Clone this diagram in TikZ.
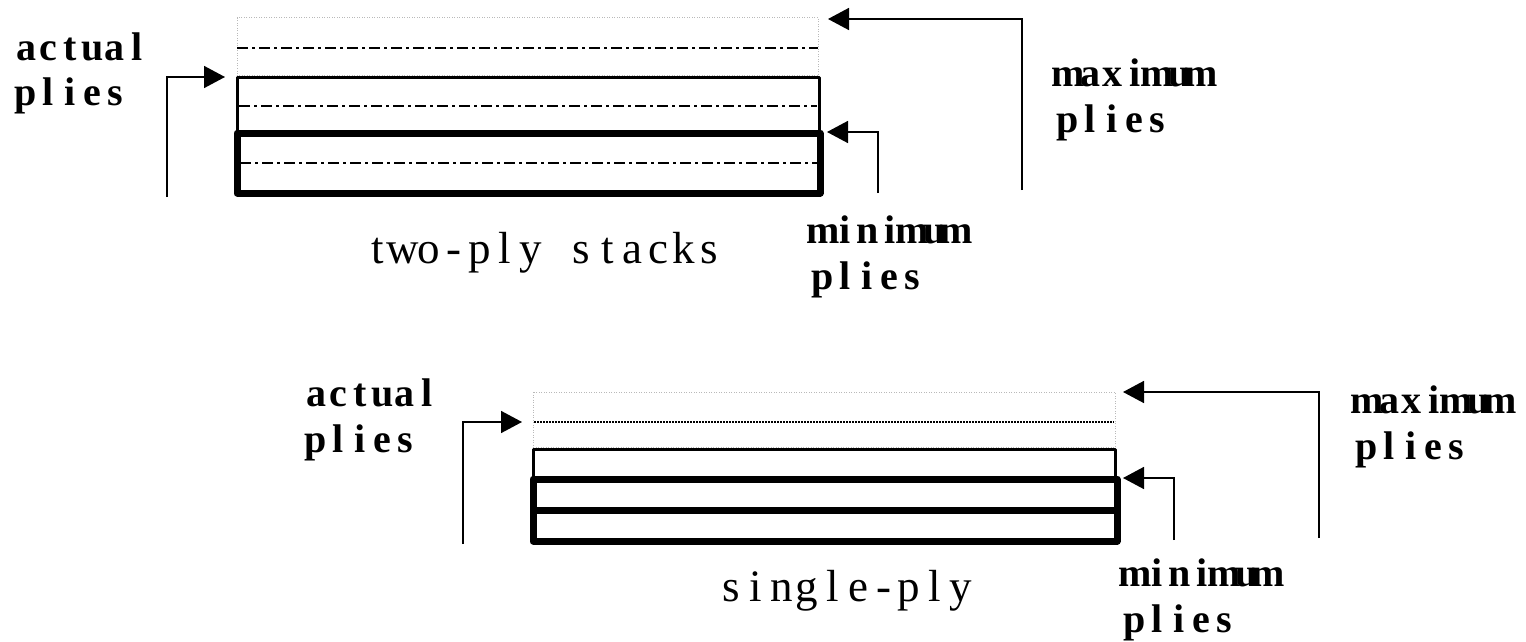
\documentclass[tikz,border=0pt]{standalone}
\usepackage{fontspec}
\setmainfont{Liberation Serif}
\usetikzlibrary{arrows.meta}
\newlength\cellw
\def\mymonoA#1{\ifx#1\relax\else\makebox[\cellw][c]{#1}\expandafter\mymonoA\fi}
\newcommand\mymono[1]{\mymonoA#1\relax}
\newcommand\boldlbl[2]{{\fontsize{40}{46}\selectfont\bfseries\setlength\cellw{22.2pt}\renewcommand\arraystretch{1}\begin{tabular}[t]{@{}l@{}}\mymono{#1}\\\mymono{#2}\end{tabular}}}
\newcommand\reglbl[1]{{\fontsize{45}{50}\selectfont\setlength\cellw{25.5pt}#1}}
\tikzset{
  conn/.style={line width=1.6pt, -{Triangle[length=21pt,width=22pt]}},
  ghost/.style={draw=gray!55, line width=1pt, dash pattern=on 1pt off 1.5pt},
  dashdot/.style={line width=2pt, dash pattern=on 11pt off 4pt on 3pt off 4pt},
  fine/.style={line width=1.6pt, dash pattern=on 1.5pt off 1.5pt},
  thinply/.style={draw, line width=3pt, line join=round},
  thickply/.style={draw, line width=7pt, line join=round},
  lbl/.style={anchor=base west, inner sep=0pt, outer sep=0pt}
}
\begin{document}
\begin{tikzpicture}[x=1pt,y=-1pt]
\useasboundingbox (0,0) rectangle (1526,642);
% ---------- top: two-ply stacks ----------
\coordinate (tA) at (237,18);  \coordinate (tB) at (818,76);
\coordinate (tC) at (237,78);  \coordinate (tD) at (819,133);
\coordinate (tE) at (237,133); \coordinate (tF) at (820,193);
\draw[ghost] (tA) rectangle (tB);
\draw[dashdot] (237,48) -- (818,48);
\draw[thinply] (tC) rectangle (tD);
\draw[dashdot] (239,106) -- (817,106);
\draw[thickply] (tE) rectangle (tF);
\draw[dashdot] (240,163) -- (817,163);

\coordinate (a1tail) at (167,197); \coordinate (a1tip) at (225,77);
\coordinate (n1tail) at (878,193); \coordinate (n1tip) at (827,132);
\coordinate (x1tail) at (1022,190); \coordinate (x1tip) at (828,19);
\draw[conn] (a1tail) |- (a1tip);
\draw[conn] (n1tail) |- (n1tip);
\draw[conn] (x1tail) |- (x1tip);

\node[lbl] (act1) at (15,60) {\boldlbl{actual}{plies}};
\node[lbl] (max1) at (1057,87) {\boldlbl{maximum}{plies}};
\node[lbl] (min1) at (812,243) {\boldlbl{minimum}{plies}};
\node[lbl] (cap1) at (365,263) {\reglbl{\mymono{two-ply}\hspace{\cellw}\mymono{stacks}}};

% ---------- bottom: single-ply ----------
\coordinate (bA) at (533,392);  \coordinate (bB) at (1115,447);
\coordinate (bC) at (533,449);  \coordinate (bD) at (1115,479);
\coordinate (bE) at (533,479);  \coordinate (bF) at (1117,541);
\draw[ghost] (bA) rectangle (bB);
\draw[fine] (534,422) -- (1114,422);
\draw[thinply] (bC) rectangle (bD);
\draw[thickply] (bE) rectangle (bF);
\draw[thickply] (533,510) -- (1117,510);

\coordinate (a2tail) at (463,544); \coordinate (a2tip) at (522,422);
\coordinate (n2tail) at (1174,540); \coordinate (n2tip) at (1123,478);
\coordinate (x2tail) at (1319,538); \coordinate (x2tip) at (1123,392);
\draw[conn] (a2tail) |- (a2tip);
\draw[conn] (n2tail) |- (n2tip);
\draw[conn] (x2tail) |- (x2tip);

\node[lbl] (act2) at (305,406) {\boldlbl{actual}{plies}};
\node[lbl] (max2) at (1356,413) {\boldlbl{maximum}{plies}};
\node[lbl] (min2) at (1124,586) {\boldlbl{minimum}{plies}};
\node[lbl] (cap2) at (718,601) {\reglbl{\mymono{single-ply}}};
\end{tikzpicture}
\end{document}
